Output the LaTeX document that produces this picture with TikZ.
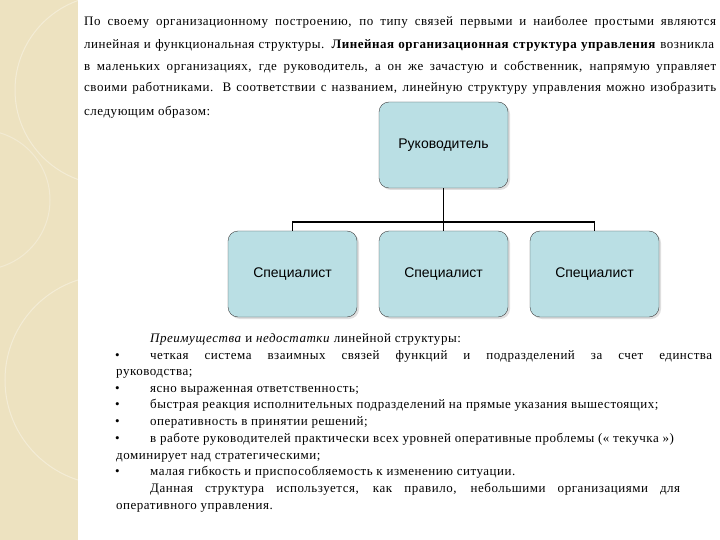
\documentclass[tikz,border=0pt]{standalone}
\usepackage{fontspec}
\setmainfont{Liberation Serif}[LetterSpace=4]
\newfontfamily\boxfont{Liberation Sans}
\usetikzlibrary{shadows}
\definecolor{beige}{HTML}{EDE2C0}
\definecolor{boxfill}{HTML}{BADFE4}
\begin{document}
\begin{tikzpicture}[x=1pt,y=-1pt,
  txt/.style={anchor=base west,inner sep=0,font=\fontsize{13}{15}\selectfont},
  org/.style={draw=black!75,fill=boxfill,rounded corners=10pt,minimum width=129pt,minimum height=86pt,
    font=\boxfont\fontsize{14}{16}\selectfont,drop shadow={shadow xshift=2pt,shadow yshift=-2pt,fill=black!25}},
  link/.style={draw=black,line width=1.2pt}]
\useasboundingbox (0,0) rectangle (720,540);
\clip (0,0) rectangle (720,540);
\fill[beige] (0,0) rectangle (78,540);
\draw[white,opacity=0.35,line width=1pt] (110,90) circle (95);
\draw[white,opacity=0.35,line width=1pt] (110,380) circle (105);
\draw[white,opacity=0.3,line width=1pt] (-20,200) circle (70);
% top paragraph
\node[txt] (t1) at (84,26) {\makebox[632pt][s]{По своему организационному построению, по типу связей первыми и наиболее простыми являются}};
\node[txt] (t2) at (84,49) {\makebox[630pt][s]{линейная и функциональная структуры. \textbf{Линейная организационная структура управления} возникла}};
\node[txt] (t3) at (84,71) {\makebox[632pt][s]{в маленьких организациях, где руководитель, а он же зачастую и собственник, напрямую управляет}};
\node[txt] (t4) at (84,92) {\makebox[632pt][s]{своими работниками. В соответствии с названием, линейную структуру управления можно изобразить}};
\node[txt] (t5) at (84,116) {следующим образом:};
% chart
\node[org] (r) at (443.5,145) {Руководитель};
\node[org] (s1) at (292.5,274) {Специалист};
\node[org] (s2) at (443.5,274) {Специалист};
\node[org] (s3) at (594.5,274) {Специалист};
\coordinate (j) at (443.5,222);
\draw[link] (r.south) -- (j);
\draw[link] (s1.north) |- (j) -| (s3.north);
\draw[link] (j) -- (s2.north);
% bottom text
\node[txt] (b0) at (150,342) {\textit{Преимущества} и \textit{недостатки} линейной структуры:};
\node[txt] (k1) at (115,359) {•};
\node[txt] (b1) at (150,359) {\makebox[562pt][s]{четкая система взаимных связей функций и подразделений за счет единства}};
\node[txt] (b1b) at (116,375) {руководства;};
\node[txt] (k2) at (115,392) {•};
\node[txt] (b2) at (150,392) {ясно выраженная ответственность;};
\node[txt] (k3) at (115,408) {•};
\node[txt] (b3) at (150,408) {быстрая реакция исполнительных подразделений на прямые указания вышестоящих;};
\node[txt] (k4) at (115,425) {•};
\node[txt] (b4) at (150,425) {оперативность в принятии решений;};
\node[txt] (k5) at (115,442) {•};
\node[txt] (b5) at (150,442) {в работе руководителей практически всех уровней оперативные проблемы (« текучка »)};
\node[txt] (b5b) at (116,459) {доминирует над стратегическими;};
\node[txt] (k6) at (115,475) {•};
\node[txt] (b6) at (150,475) {малая гибкость и приспособляемость к изменению ситуации.};
\node[txt] (b7) at (150,492) {\makebox[530pt][s]{Данная структура используется, как правило, небольшими организациями для}};
\node[txt] (b7b) at (116,509) {оперативного управления.};
\end{tikzpicture}
\end{document}
